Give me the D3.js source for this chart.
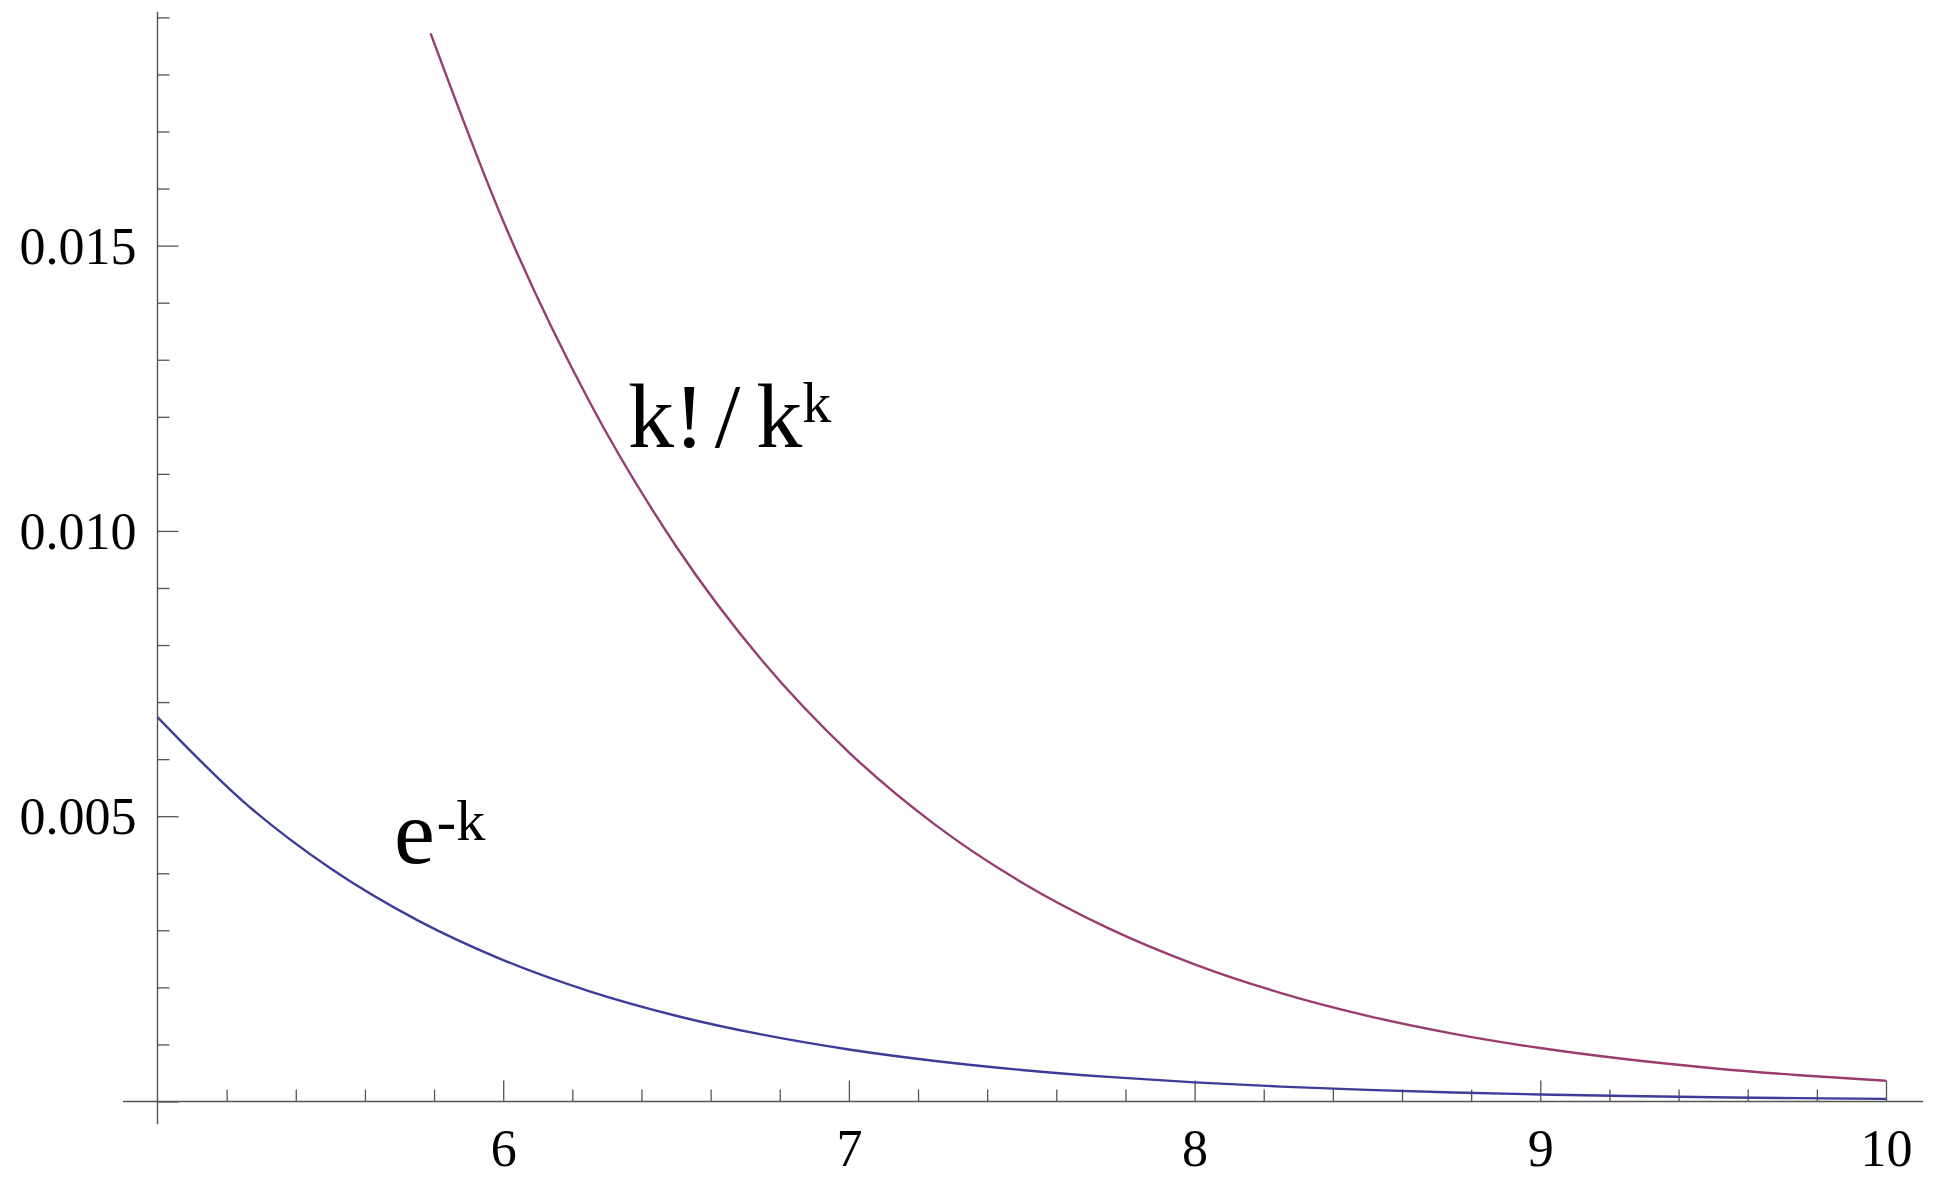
<!DOCTYPE html>
<html>
<head>
<meta charset="utf-8">
<script src="https://cdn.jsdelivr.net/npm/d3@7"></script>
<style>
  html, body { margin: 0; padding: 0; background: #fff; }
  svg { display: block; }
  text { font-family: "Liberation Serif", "DejaVu Serif", serif; fill: #000; }
</style>
</head>
<body>
<svg id="chart" width="1933" height="1189"></svg>
<script>
// k values and the two sequences compared: e^-k and k!/k^k = Γ(k+1)/k^k
const expK = [5, 5.25, 5.5, 5.75, 6, 6.25, 6.5, 6.75, 7, 7.25, 7.5, 7.75, 8,
              8.25, 8.5, 8.75, 9, 9.25, 9.5, 9.75, 10];
const expVals = [0.0067379, 0.0052475, 0.0040868, 0.0031828, 0.0024788, 0.0019305,
                 0.0015034, 0.0011709, 0.00091188, 0.00071017, 0.00055308, 0.00043074,
                 0.00033546, 0.00026126, 0.00020347, 0.00015846, 0.00012341, 0.0000961,
                 0.0000749, 0.0000583, 0.0000454];

const factK = [5.79, 6, 6.25, 6.5, 6.75, 7, 7.25, 7.5, 7.75, 8,
               8.25, 8.5, 8.75, 9, 9.25, 9.5, 9.75, 10];
const factVals = [0.01872, 0.0154321, 0.012259, 0.0097318, 0.0077198, 0.0061199,
                  0.0048486, 0.0038392, 0.0030383, 0.0024033, 0.0019001, 0.0015016,
                  0.0011862, 0.00093666, 0.00073934, 0.00058339, 0.00046019, 0.00036288];

// axis ticks
const xMajor = [6, 7, 8, 9, 10];
const xMinor = [5.2, 5.4, 5.6, 5.8, 6.2, 6.4, 6.6, 6.8, 7.2, 7.4, 7.6, 7.8,
                8.2, 8.4, 8.6, 8.8, 9.2, 9.4, 9.6, 9.8];
const yMajor = [0, 0.005, 0.010, 0.015];
const yLabeled = [0.005, 0.010, 0.015];
const yMinor = [0.001, 0.002, 0.003, 0.004, 0.006, 0.007, 0.008, 0.009,
                0.011, 0.012, 0.013, 0.014, 0.016, 0.017, 0.018, 0.019];

const svg = d3.select("#chart");

const x = d3.scaleLinear().domain([5, 10]).range([157.5, 1886]);
const y = d3.scaleLinear().domain([0, 0.019]).range([1101.5, 17.4]);

const axisColor = "#555";

// axis lines, extended slightly past the plotted range
svg.append("line")
  .attr("x1", x(4.9)).attr("x2", x(10.107))
  .attr("y1", y(0)).attr("y2", y(0))
  .attr("stroke", axisColor).attr("stroke-width", 1.4);
svg.append("line")
  .attr("x1", x(5)).attr("x2", x(5))
  .attr("y1", y(0.0191)).attr("y2", y(-0.0004))
  .attr("stroke", axisColor).attr("stroke-width", 1.4);

function styleAxis(g) {
  g.select(".domain").remove();
  g.selectAll(".tick line").attr("stroke", axisColor).attr("stroke-width", 1.3);
  g.selectAll(".tick text")
    .attr("font-family", "'Liberation Serif', serif")
    .attr("font-size", 52)
    .attr("fill", "#000");
}

// x axis: ticks pointing up into the plot
svg.append("g").attr("transform", `translate(0,${y(0)})`)
  .call(d3.axisBottom(x).tickValues(xMinor).tickSize(-12).tickFormat(""))
  .call(styleAxis);
svg.append("g").attr("transform", `translate(0,${y(0)})`)
  .call(d3.axisBottom(x).tickValues(xMajor).tickSize(-21).tickPadding(0).tickFormat(d3.format("d")))
  .call(styleAxis)
  .call(g => g.selectAll(".tick text").attr("y", 64).attr("dy", null));

// y axis: ticks pointing right into the plot
svg.append("g").attr("transform", `translate(${x(5)},0)`)
  .call(d3.axisLeft(y).tickValues(yMinor).tickSize(-12).tickFormat(""))
  .call(styleAxis);
svg.append("g").attr("transform", `translate(${x(5)},0)`)
  .call(d3.axisLeft(y).tickValues(yMajor).tickSize(-21)
        .tickFormat(d => yLabeled.includes(d) ? d3.format(".3f")(d) : ""))
  .call(styleAxis)
  .call(g => g.selectAll(".tick text").attr("x", -21).attr("dy", "0.34em"));

// curves
const line = d3.line()
  .x(d => x(d[0]))
  .y(d => y(d[1]))
  .curve(d3.curveMonotoneX);

svg.append("path")
  .datum(expK.map((k, i) => [k, expVals[i]]))
  .attr("d", line)
  .attr("fill", "none")
  .attr("stroke", "#3d3d99")
  .attr("stroke-width", 2.4);

svg.append("path")
  .datum(factK.map((k, i) => [k, factVals[i]]))
  .attr("d", line)
  .attr("fill", "none")
  .attr("stroke", "#993d71")
  .attr("stroke-width", 2.4);

// curve labels
const lab1 = svg.append("text")
  .attr("x", 628).attr("y", 447)
  .attr("font-size", 92);
lab1.append("tspan").text("k!");
lab1.append("tspan").attr("dx", 10).text("/");
lab1.append("tspan").attr("dx", 16).text("k");
lab1.append("tspan").attr("font-size", 58).attr("dy", -25).text("k");

const lab2 = svg.append("text")
  .attr("x", 394).attr("y", 863)
  .attr("font-size", 92);
lab2.append("tspan").text("e");
lab2.append("tspan").attr("font-size", 58).attr("dy", -23).attr("dx", 2).text("-k");
</script>
</body>
</html>
